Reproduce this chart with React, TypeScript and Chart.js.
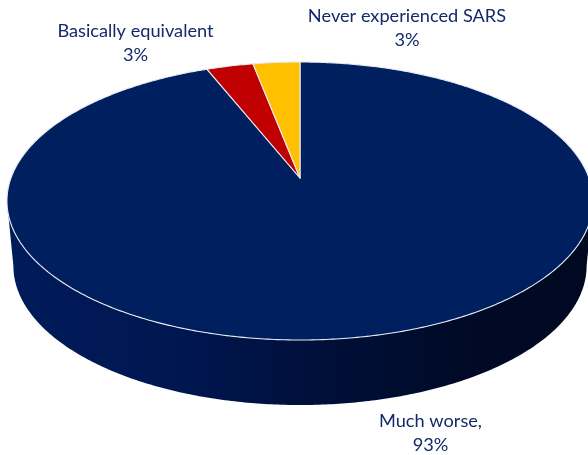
import React, { useEffect, useRef } from "react";
import { Chart, registerables } from "chart.js";

Chart.register(...registerables);

const categories = ["Much worse", "Basically equivalent", "Never experienced SARS"];
const shares = [93, 3, 3];
const sliceColors = ["#001f5f", "#c00000", "#ffc000"];
const labelLines = [
  ["Much worse,", "93%"],
  ["Basically equivalent", "3%"],
  ["Never experienced SARS", "3%"],
];
const labelCentres = [
  [430.5, 421.5],
  [135.5, 31.5],
  [407, 16],
];
const wallStops = [
  [0, "#001b5a"],
  [0.3, "#001650"],
  [0.55, "#000f38"],
  [0.8, "#000a26"],
  [1, "#000920"],
] as const;

// Tilted-disc projection: a unit circle seen in perspective, nearer at the front.
const APEX_X = 300;
const APEX_Y = 178;
const TILT = -0.1655;
const SCALE_X = 289;
const SCALE_Y = 135.2;
const WALL_DROP = 65;
const WALL_SHRINK = 0.978;

const project = (angle: number): [number, number] => {
  const u = Math.cos(angle);
  const v = Math.sin(angle);
  const w = 1 + TILT * v;
  return [APEX_X + (SCALE_X * u) / w, APEX_Y + (SCALE_Y * v) / w];
};

const sampleArc = (from: number, to: number): [number, number][] => {
  const steps = Math.max(2, Math.ceil(Math.abs(to - from) / 0.01));
  const pts: [number, number][] = [];
  for (let i = 0; i <= steps; i++) pts.push(project(from + ((to - from) * i) / steps));
  return pts;
};

const tiltedPie = {
  id: "tiltedPie",
  beforeDatasetsDraw(chart: Chart) {
    const ctx = chart.ctx;
    const arcs = chart.getDatasetMeta(0).data as any[];
    const colors = chart.data.datasets[0].backgroundColor as string[];

    // Side wall: the front half of the rim, from silhouette point to silhouette point.
    const tangent = Math.asin(-TILT);
    const rim = sampleArc(Math.PI - tangent, tangent);
    const gradient = ctx.createLinearGradient(APEX_X - SCALE_X, 0, APEX_X + SCALE_X, 0);
    wallStops.forEach(([at, color]) => gradient.addColorStop(at, color));
    ctx.save();
    ctx.beginPath();
    rim.forEach(([x, y], i) => (i ? ctx.lineTo(x, y) : ctx.moveTo(x, y)));
    [...rim].reverse().forEach(([x, y]) =>
      ctx.lineTo(APEX_X + (x - APEX_X) * WALL_SHRINK, y + WALL_DROP)
    );
    ctx.closePath();
    ctx.fillStyle = gradient;
    ctx.fill();

    // Top face, one slice per arc element.
    arcs.forEach((arc, i) => {
      ctx.beginPath();
      ctx.moveTo(APEX_X, APEX_Y);
      sampleArc(arc.startAngle, arc.endAngle).forEach(([x, y]) => ctx.lineTo(x, y));
      ctx.closePath();
      ctx.fillStyle = colors[i];
      ctx.fill();
      ctx.strokeStyle = "#e8ebf2";
      ctx.lineWidth = 1.1;
      ctx.lineJoin = "round";
      ctx.stroke();
    });
    ctx.restore();
    return false;
  },
  afterDraw(chart: Chart) {
    const ctx = chart.ctx;
    ctx.save();
    ctx.font = '18.2px Lato, "Noto Sans", sans-serif';
    ctx.fillStyle = "#14296a";
    ctx.textAlign = "center";
    ctx.textBaseline = "middle";
    labelLines.forEach((lines, i) => {
      const [cx, cy] = labelCentres[i];
      lines.forEach((line, j) => ctx.fillText(line, cx, cy + j * 24));
    });
    ctx.restore();
  },
};

export default function App() {
  const ref = useRef<HTMLCanvasElement>(null);
  useEffect(() => {
    const chart = new Chart(ref.current!, {
      type: "pie",
      data: {
        labels: categories,
        datasets: [{ data: shares, backgroundColor: sliceColors, borderWidth: 0 }],
      },
      options: {
        animation: false,
        responsive: false,
        plugins: { legend: { display: false }, tooltip: { enabled: false } },
      },
      plugins: [tiltedPie],
    });
    return () => chart.destroy();
  }, []);
  return (
    <div style={{ position: "fixed", left: 0, top: 0, width: 588, height: 455, background: "#fff" }}>
      <canvas ref={ref} width={588} height={455} style={{ display: "block" }} />
    </div>
  );
}
